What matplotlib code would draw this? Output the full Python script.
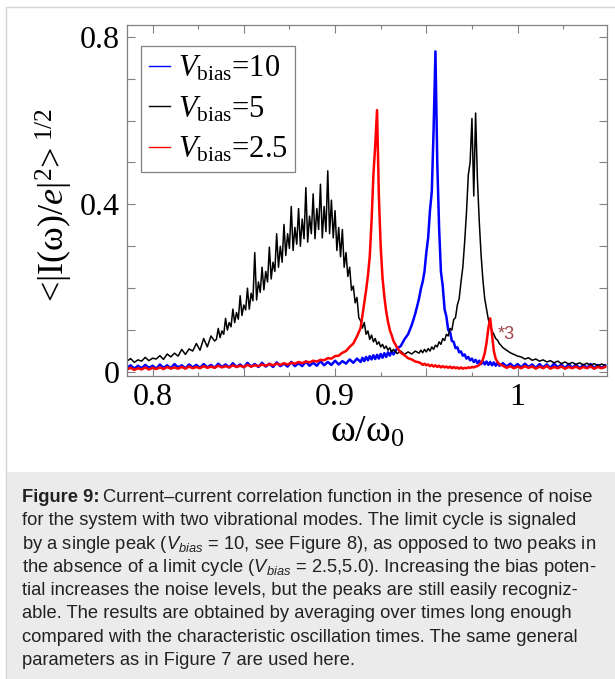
import matplotlib
matplotlib.use("Agg")
import matplotlib.pyplot as plt
from matplotlib.ticker import MultipleLocator, FuncFormatter
from matplotlib.patches import Rectangle

# frequency grid (omega / omega_0) for V_bias = 10 and 2.5, finer around the peaks
omega = [
    0.786, 0.788, 0.790, 0.792, 0.794, 0.796, 0.798, 0.800, 0.802, 0.804,
    0.806, 0.808, 0.810, 0.812, 0.814, 0.816, 0.818, 0.820, 0.822, 0.824,
    0.826, 0.828, 0.830, 0.832, 0.834, 0.836, 0.838, 0.840, 0.842, 0.844,
    0.846, 0.848, 0.850, 0.852, 0.854, 0.856, 0.858, 0.860, 0.862, 0.864,
    0.866, 0.868, 0.870, 0.872, 0.874, 0.876, 0.878, 0.880, 0.882, 0.884,
    0.886, 0.888, 0.890, 0.892, 0.894, 0.896, 0.898, 0.900, 0.902, 0.904,
    0.906, 0.908, 0.910, 0.912, 0.914,
    0.915, 0.916, 0.917, 0.918, 0.919, 0.920, 0.921, 0.922, 0.923, 0.924,
    0.925, 0.926, 0.927, 0.928, 0.929, 0.930, 0.931, 0.932,
    0.934, 0.936, 0.938, 0.940, 0.942, 0.944, 0.946,
    0.947, 0.948, 0.949, 0.950, 0.951, 0.952, 0.953, 0.954, 0.955, 0.956,
    0.957, 0.958, 0.959, 0.960, 0.961, 0.962, 0.963, 0.964, 0.965, 0.966,
    0.967, 0.968, 0.969, 0.970, 0.971, 0.972, 0.973, 0.974, 0.975, 0.976,
    0.977, 0.978, 0.979, 0.980, 0.981, 0.982, 0.983, 0.984, 0.985, 0.986,
    0.987, 0.988, 0.989, 0.990,
    0.992, 0.994, 0.996, 0.998, 1.000, 1.002, 1.004, 1.006, 1.008, 1.010,
    1.012, 1.014, 1.016, 1.018, 1.020, 1.022, 1.024, 1.026, 1.028, 1.030,
    1.032, 1.034, 1.036, 1.038, 1.040, 1.042, 1.044, 1.046, 1.048,
]

# V_bias = 10 (blue)
amp_v10 = [
    0.010, 0.016, 0.008, 0.015, 0.009, 0.017, 0.010, 0.015, 0.008, 0.018,
    0.010, 0.016, 0.009, 0.019, 0.011, 0.016, 0.009, 0.018, 0.011, 0.017,
    0.010, 0.019, 0.011, 0.017, 0.010, 0.020, 0.012, 0.018, 0.011, 0.021,
    0.012, 0.018, 0.011, 0.022, 0.013, 0.019, 0.012, 0.022, 0.013, 0.020,
    0.012, 0.023, 0.014, 0.020, 0.013, 0.024, 0.014, 0.021, 0.014, 0.025,
    0.015, 0.022, 0.015, 0.026, 0.016, 0.024, 0.017, 0.027, 0.018, 0.026,
    0.020, 0.030, 0.022, 0.032, 0.024,
    0.034, 0.026, 0.036, 0.028, 0.038, 0.030, 0.040, 0.031, 0.041, 0.032,
    0.043, 0.034, 0.045, 0.036, 0.047, 0.039, 0.050, 0.042,
    0.056, 0.062, 0.078, 0.090, 0.112, 0.140, 0.175,
    0.198, 0.215, 0.240, 0.285, 0.320, 0.385, 0.430, 0.580, 0.765, 0.500,
    0.345, 0.240, 0.205, 0.150, 0.132, 0.100, 0.096, 0.074, 0.072, 0.057,
    0.059, 0.047, 0.049, 0.039, 0.042, 0.032, 0.036, 0.028, 0.032, 0.024,
    0.029, 0.021, 0.027, 0.019, 0.026, 0.018, 0.025, 0.017, 0.024, 0.016,
    0.023, 0.015, 0.022, 0.015,
    0.021, 0.013, 0.020, 0.012, 0.019, 0.011, 0.020, 0.012, 0.018, 0.010,
    0.019, 0.011, 0.018, 0.010, 0.020, 0.011, 0.018, 0.009, 0.019, 0.010,
    0.018, 0.009, 0.017, 0.010, 0.019, 0.009, 0.017, 0.010, 0.016,
]

# V_bias = 2.5 (red), second peak shown multiplied by 3
amp_v25 = [
    0.006, 0.010, 0.005, 0.009, 0.006, 0.011, 0.006, 0.010, 0.007, 0.011,
    0.007, 0.012, 0.008, 0.011, 0.008, 0.012, 0.008, 0.013, 0.009, 0.012,
    0.009, 0.014, 0.010, 0.013, 0.010, 0.015, 0.011, 0.014, 0.011, 0.016,
    0.012, 0.015, 0.012, 0.017, 0.013, 0.016, 0.014, 0.018, 0.015, 0.019,
    0.016, 0.020, 0.017, 0.021, 0.018, 0.022, 0.020, 0.024, 0.021, 0.025,
    0.023, 0.027, 0.025, 0.029, 0.028, 0.033, 0.032, 0.038, 0.039, 0.046,
    0.050, 0.060, 0.068, 0.085, 0.105,
    0.135, 0.165, 0.195, 0.230, 0.275, 0.360, 0.470, 0.540, 0.625, 0.420,
    0.300, 0.225, 0.180, 0.145, 0.120, 0.100, 0.088, 0.074,
    0.058, 0.046, 0.040, 0.033, 0.030, 0.025, 0.023,
    0.021, 0.017, 0.020, 0.016, 0.018, 0.014, 0.017, 0.013, 0.016, 0.012,
    0.015, 0.011, 0.014, 0.011, 0.013, 0.010, 0.013, 0.009, 0.012, 0.009,
    0.011, 0.008, 0.011, 0.008, 0.010, 0.009, 0.011, 0.010, 0.012, 0.011,
    0.013, 0.014, 0.017, 0.022, 0.030, 0.045, 0.070, 0.105, 0.128, 0.090,
    0.050, 0.032, 0.024, 0.019,
    0.015, 0.010, 0.014, 0.009, 0.013, 0.009, 0.014, 0.010, 0.013, 0.008,
    0.013, 0.009, 0.014, 0.008, 0.012, 0.009, 0.013, 0.008, 0.012, 0.009,
    0.013, 0.008, 0.012, 0.009, 0.013, 0.008, 0.012, 0.009, 0.012,
]

# V_bias = 5 (black) has its own, denser grid over the broad noisy peak
omega_v5 = [
    0.786, 0.788, 0.790, 0.792, 0.794, 0.796, 0.798, 0.800, 0.802, 0.804,
    0.806, 0.808, 0.810, 0.812, 0.814, 0.816, 0.818, 0.820, 0.822, 0.824,
    0.826, 0.828, 0.830, 0.832, 0.834,
    0.835, 0.836, 0.837, 0.838, 0.839, 0.840, 0.841, 0.842, 0.843, 0.844,
    0.845, 0.846, 0.847, 0.848, 0.849, 0.850, 0.851, 0.852, 0.853, 0.854,
    0.855, 0.856, 0.857, 0.858, 0.859, 0.860, 0.861, 0.862, 0.863, 0.864,
    0.865, 0.866, 0.867, 0.868, 0.869, 0.870, 0.871, 0.872, 0.873, 0.874,
    0.875, 0.876, 0.877, 0.878, 0.879, 0.880, 0.881, 0.882, 0.883, 0.884,
    0.885, 0.886, 0.887, 0.888, 0.889, 0.890, 0.891, 0.892, 0.893, 0.894,
    0.895, 0.896, 0.897, 0.898, 0.899, 0.900, 0.901, 0.902, 0.903, 0.904,
    0.905, 0.906, 0.907, 0.908, 0.909, 0.910, 0.911, 0.912, 0.913, 0.914,
    0.915, 0.916, 0.917, 0.918, 0.919, 0.920, 0.921, 0.922, 0.923, 0.924,
    0.925, 0.926, 0.927, 0.928, 0.929, 0.930, 0.931, 0.932,
    0.934, 0.936, 0.938, 0.940, 0.942, 0.944, 0.946,
    0.947, 0.948, 0.949, 0.950, 0.951, 0.952, 0.953, 0.954, 0.955, 0.956,
    0.957, 0.958, 0.959, 0.960, 0.961, 0.962, 0.963, 0.964, 0.965, 0.966,
    0.967, 0.968, 0.969, 0.970, 0.971, 0.972, 0.973, 0.974, 0.975, 0.976,
    0.977, 0.978, 0.979, 0.980, 0.981, 0.982, 0.983, 0.984, 0.985, 0.986,
    0.987, 0.988, 0.989, 0.990,
    0.992, 0.994, 0.996, 0.998, 1.000, 1.002, 1.004, 1.006, 1.008, 1.010,
    1.012, 1.014, 1.016, 1.018, 1.020, 1.022, 1.024, 1.026, 1.028, 1.030,
    1.032, 1.034, 1.036, 1.038, 1.040, 1.042, 1.044, 1.046, 1.048,
]

amp_v5 = [
    0.026, 0.032, 0.023, 0.029, 0.026, 0.035, 0.027, 0.033, 0.031, 0.039,
    0.030, 0.043, 0.036, 0.045, 0.038, 0.054, 0.042, 0.055, 0.050, 0.068,
    0.052, 0.080, 0.060, 0.086, 0.074,
    0.078, 0.104, 0.082, 0.098, 0.090, 0.128, 0.100, 0.118, 0.108, 0.150,
    0.118, 0.142, 0.126, 0.182, 0.135, 0.160, 0.148, 0.200, 0.150, 0.188,
    0.170, 0.285, 0.172, 0.215, 0.190, 0.250, 0.196, 0.240, 0.215, 0.298,
    0.222, 0.262, 0.240, 0.330, 0.250, 0.300, 0.262, 0.352, 0.278, 0.330,
    0.295, 0.395, 0.290, 0.345, 0.305, 0.390, 0.300, 0.365, 0.318, 0.440,
    0.310, 0.372, 0.330, 0.425, 0.318, 0.390, 0.340, 0.448, 0.320, 0.395,
    0.335, 0.480, 0.330, 0.410, 0.320, 0.385, 0.290, 0.345, 0.275, 0.340,
    0.250, 0.285, 0.228, 0.250, 0.195, 0.205, 0.165, 0.178, 0.130, 0.122,
    0.105, 0.118, 0.090, 0.098, 0.078, 0.088, 0.072, 0.080, 0.066, 0.072,
    0.060, 0.066, 0.056, 0.062, 0.052, 0.058, 0.048, 0.054,
    0.044, 0.050, 0.042, 0.048, 0.043, 0.050, 0.045,
    0.052, 0.046, 0.054, 0.048, 0.056, 0.050, 0.060, 0.054, 0.064, 0.060,
    0.072, 0.066, 0.080, 0.075, 0.090, 0.086, 0.104, 0.100, 0.125, 0.130,
    0.160, 0.175, 0.215, 0.250, 0.310, 0.380, 0.470, 0.500, 0.605, 0.420,
    0.618, 0.460, 0.360, 0.280, 0.220, 0.175, 0.150, 0.125, 0.110, 0.098,
    0.090, 0.080, 0.076, 0.068,
    0.058, 0.052, 0.046, 0.042, 0.038, 0.036, 0.031, 0.034, 0.028, 0.031,
    0.026, 0.029, 0.024, 0.027, 0.022, 0.026, 0.020, 0.024, 0.019, 0.023,
    0.018, 0.022, 0.017, 0.021, 0.016, 0.020, 0.015, 0.019, 0.016,
]

labels = [r"$V_{\mathrm{bias}}$=10", r"$V_{\mathrm{bias}}$=5", r"$V_{\mathrm{bias}}$=2.5"]
colors = ["#0000ff", "#000000", "#ff0000"]

caption = [
    "for the system with two vibrational modes. The limit cycle is signaled",
    r"by a single peak ($\mathsf{V_{bias}}$ = 10, see Figure 8), as opposed to two peaks in",
    r"the absence of a limit cycle ($\mathsf{V_{bias}}$ = 2.5,5.0). Increasing the bias poten-",
    "tial increases the noise levels, but the peaks are still easily recogniz-",
    "able. The results are obtained by averaging over times long enough",
    "compared with the characteristic oscillation times. The same general",
    "parameters as in Figure 7 are used here.",
]

assert len(omega) == len(amp_v10) == len(amp_v25)
assert len(omega_v5) == len(amp_v5)

plt.rcParams["mathtext.fontset"] = "custom"
plt.rcParams["mathtext.rm"] = "Liberation Serif"
plt.rcParams["mathtext.it"] = "Liberation Serif:italic"
plt.rcParams["mathtext.bf"] = "Liberation Serif:bold"
plt.rcParams["mathtext.sf"] = "Liberation Sans:italic"
plt.rcParams["font.family"] = ["Liberation Serif", "DejaVu Serif"]

W, H = 615, 679
fig = plt.figure(figsize=(W / 100, H / 100), dpi=100)

# page frame and caption panel
fig.add_artist(Rectangle((6 / W, 0), 1, 1 - 7 / H, transform=fig.transFigure,
                         facecolor="white", edgecolor="#d4d4d4", lw=1.0, zorder=-3))
fig.add_artist(Rectangle((7 / W, 0), 1, (H - 472) / H, transform=fig.transFigure,
                         facecolor="#ebebeb", edgecolor="none", zorder=-2))

ax = fig.add_axes([127 / W, 1 - 376 / H, 480 / W, 351 / H])
ax.plot(omega, amp_v10, color=colors[0], lw=1.8, label=labels[0])
ax.plot(omega_v5, amp_v5, color=colors[1], lw=1.1, label=labels[1])
ax.plot(omega, amp_v25, color=colors[2], lw=1.8, label=labels[2])

ax.set_xlim(0.786, 1.049)
ax.set_ylim(-0.0095, 0.828)

ax.xaxis.set_major_locator(MultipleLocator(0.05))
ax.xaxis.set_minor_locator(MultipleLocator(0.025))
ax.yaxis.set_major_locator(MultipleLocator(0.1))


def fmt_x(v, pos):
    r = round(v * 10)
    if abs(v * 10 - r) > 1e-6:
        return ""
    return "1" if r == 10 else f"{v:.1f}"


def fmt_y(v, pos):
    r = round(v * 10)
    if abs(v * 10 - r) > 1e-6 or r % 4:
        return ""
    return "0" if r == 0 else f"{v:.1f}"


ax.xaxis.set_major_formatter(FuncFormatter(fmt_x))
ax.yaxis.set_major_formatter(FuncFormatter(fmt_y))
ax.tick_params(which="both", direction="in", top=True, right=True, color="#808080",
               width=0.8, labelsize=23, labelcolor="black")
ax.tick_params(which="major", length=6, pad=5)
ax.tick_params(which="minor", length=3)
for s in ax.spines.values():
    s.set_color("#808080")
    s.set_linewidth(0.9)

leg = ax.legend(loc="upper left", bbox_to_anchor=(0.029, 0.94), borderaxespad=0,
                fontsize=22, handlelength=0.7, handletextpad=0.25, labelspacing=0.37,
                borderpad=0.25, frameon=True, fancybox=False, framealpha=1)
leg.get_frame().set_edgecolor("#808080")
leg.get_frame().set_linewidth(0.9)
for h in leg.get_lines():
    h.set_linewidth(1.0)

ax.text(0.989, 0.078, "*3", color="#a0454a", fontsize=13, family="Liberation Sans")

ax.set_xlabel(r"$\mathrm{\omega/\omega_0}$", fontsize=27, labelpad=2)
fig.text(54 / W, 1 - 205 / H, r"<|I(ω)/$e$|$^{2}$>$^{\ 1/2}$",
         rotation=90, fontsize=26, ha="center", va="center")

# caption
cap_kw = dict(fontsize=13.2, family="Liberation Sans", color="#222222", va="baseline")
x0 = 22 / W
y_first = 502
t = fig.text(x0, 1 - y_first / H, "Figure 9:", fontweight="bold", **cap_kw)
r = fig.canvas.get_renderer()
bw = t.get_window_extent(r).width
fig.text(x0 + (bw + 4) / W, 1 - y_first / H,
         "Current\u2013current correlation function in the presence of noise", **cap_kw)
for i, line in enumerate(caption):
    fig.text(x0, 1 - (y_first + 23.3 * (i + 1)) / H, line, **cap_kw)

fig.savefig("out.png", dpi=100)
